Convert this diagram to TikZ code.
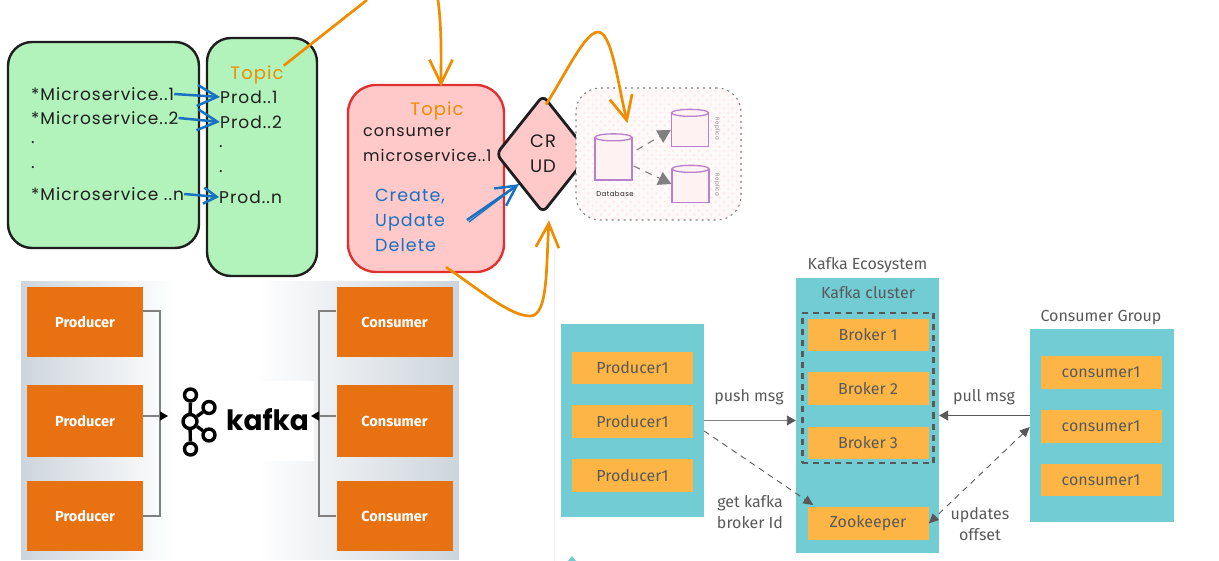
\documentclass[tikz,border=0pt]{standalone}
\usepackage{fontspec}
\usepackage{xcolor}
\usepackage{tikz}
\usetikzlibrary{shapes,arrows,positioning,calc,patterns.meta,arrows.meta}
\newfontfamily\handfont[LetterSpace=6]{Poppins}
\newfontfamily\logofont{Poppins}
\newfontfamily\slidefont{Fira Sans}
\definecolor{sketchgreen}{HTML}{B2F2BB}
\definecolor{sketchink}{HTML}{1E1E1E}
\definecolor{sketchred}{HTML}{E03131}
\definecolor{sketchpink}{HTML}{FFC9C9}
\definecolor{sketchorange}{HTML}{F08C00}
\definecolor{sketchblue}{HTML}{1971C2}
\definecolor{sketchpurple}{HTML}{B980CE}
\definecolor{kafkaorange}{HTML}{E87212}
\definecolor{kafkagrey}{HTML}{CDD5DC}
\definecolor{clusterteal}{HTML}{72CCD4}
\definecolor{clusteramber}{HTML}{FDB646}
\definecolor{clustertext}{HTML}{595959}
\tikzset{
    greenbox/.style={draw=sketchink,fill=sketchgreen,line width=2.4pt,rounded corners=24pt,inner sep=0pt},
    handtext/.style={inner sep=0pt,anchor=west,text=sketchink,font=\handfont\fontsize{17}{25}\selectfont},
    orangetext/.style={inner sep=0pt,text=sketchorange,font=\handfont\fontsize{18}{20}\selectfont},
    bluearrow/.style={draw=sketchblue,line width=2.5pt,-{Straight Barb[width=21pt,length=20pt]}},
    smallblue/.style={draw=sketchblue,line width=2.5pt,-{Straight Barb[width=16pt,length=13pt]}},
    orangeline/.style={draw=sketchorange,line width=2.7pt},
    orangearrow/.style={orangeline,-{Straight Barb[width=23pt,length=24pt]}},
    dbcyl/.style={rectangle,draw=sketchpurple,line width=1.3pt,fill=sketchpink!25,inner sep=0pt,minimum width=37pt},
    dblid/.style={ellipse,draw=sketchpurple,line width=1.3pt,fill=sketchpink!25,inner sep=0pt,minimum width=37pt,minimum height=7pt},
    greyarrow/.style={draw=gray,line width=1.1pt,dash pattern=on 7pt off 6pt,-{Triangle[width=14pt,length=13pt]}},
    kafkabox/.style={fill=kafkaorange,text=white,inner sep=0pt,minimum width=116pt,minimum height=70pt,font=\slidefont\bfseries\fontsize{14.5}{17}\selectfont},
    kafkaline/.style={draw=gray,line width=1.2pt},
    kafkatip/.style={kafkaline,-{Triangle[width=9pt,length=8pt,color=black]}},
    logoring/.style={circle,draw=black,line width=3.4pt,fill=white,inner sep=0pt,minimum size=12pt},
    tealpanel/.style={fill=clusterteal,inner sep=0pt},
    amberbox/.style={fill=clusteramber,text=clustertext,inner sep=0pt,minimum width=121pt,minimum height=32.5pt,font=\slidefont\fontsize{16}{18}\selectfont},
    clusterlabel/.style={inner sep=0pt,text=clustertext,align=center,font=\slidefont\fontsize{16}{21}\selectfont},
}
\begin{document}
\begin{tikzpicture}[x=1pt,y=-1pt]
    \useasboundingbox (0,0) rectangle (1219,561);

    % sketch: services and topics
    \node[greenbox,minimum width=191pt,minimum height=206pt] (svcbox) at (103.5,145) {};
    \node[greenbox,minimum width=110pt,minimum height=238pt] (prodbox) at (262,157) {};
    \node[orangetext] (topicleft) at (257,75) {Topic};
    \node[handtext] (svcone) at (31,94) {*Microservice..1};
    \node[handtext] (svctwo) at (31,118) {*Microservice..2};
    \node[handtext] (svcdota) at (31,143) {.};
    \node[handtext] (svcdotb) at (31,168) {.};
    \node[handtext] (svcn) at (31,194) {*Microservice ..n};
    \node[handtext] (prodone) at (220,97) {Prod..1};
    \node[handtext] (prodtwo) at (220,122) {Prod..2};
    \node[handtext] (proddota) at (219,147) {.};
    \node[handtext] (proddotb) at (219,172) {.};
    \node[handtext] (prodn) at (219,197) {Prod..n};
    \draw[bluearrow] (svcone.east) -- (prodone.west);
    \draw[bluearrow] (svctwo.east) -- (prodtwo.west);
    \draw[smallblue] (svcn.east) -- (prodn.west);

    % sketch: consumer and CRUD
    \node[draw=sketchred,fill=sketchpink,line width=2.4pt,rounded corners=28pt,inner sep=0pt,minimum width=156pt,minimum height=187pt] (consbox) at (426,178.5) {};
    \node[orangetext] (topicright) at (437,111) {Topic};
    \node[handtext,align=left,font=\handfont\fontsize{16}{25}\selectfont] (conslabel) at (363,144.5) {consumer\\microservice..1};
    \node[handtext,align=left,text=sketchblue,font=\handfont\fontsize{17.5}{25}\selectfont] (crudlabel) at (375,220) {Create,\\Update\\Delete};
    \node[diamond,aspect=0.8,draw=sketchink,fill=sketchpink,line width=2.8pt,rounded corners=6pt,inner sep=0pt,minimum width=94pt,minimum height=118pt,align=center,text=sketchink,font=\handfont\fontsize{18}{25}\selectfont] (crud) at (543,154) {CR\\UD};
    \coordinate (crudstart) at (467,220);
    \coordinate (crudstartb) at (469,222);
    \draw[bluearrow] (crudstart) -- (crud.south west);
    \draw[draw=sketchblue,line width=1.4pt] (crudstartb) -- (crud.south west);

    % sketch: database and replicas
    \node[draw=gray,dash pattern=on 2pt off 4pt,line width=1.1pt,rounded corners=24pt,inner sep=0pt,minimum width=165pt,minimum height=132pt,pattern={Lines[angle=45,distance=6pt,line width=2pt]},pattern color=sketchpink!40,preaction={fill=sketchpink!10}] (dbpanel) at (658.5,154) {};
    \node[dbcyl,minimum height=42pt] (dbmain) at (613.5,159) {};
    \node[dbcyl,minimum height=33pt] (dbrepa) at (690,130) {};
    \node[dbcyl,minimum height=33pt] (dbrepb) at (690.5,186) {};
    \node[dblid] (lidmain) at (dbmain.north) {};
    \node[dblid] (lidrepa) at (dbrepa.north) {};
    \node[dblid] (lidrepb) at (dbrepb.north) {};
    \node[inner sep=0pt,text=sketchink,font=\handfont\fontsize{7}{8}\selectfont] (dblabel) at (615,194) {Database};
    \node[inner sep=0pt,rotate=-90,text=gray,font=\handfont\fontsize{5.5}{6}\selectfont] (repalabel) at (717,129) {Replica};
    \node[inner sep=0pt,rotate=-90,text=gray,font=\handfont\fontsize{5.5}{6}\selectfont] (repblabel) at (717,185) {Replica};
    \draw[greyarrow] ([xshift=4pt,yshift=9pt]dbmain.east) -- (dbrepa.west);
    \draw[greyarrow] ([xshift=1pt,yshift=-7pt]dbmain.east) -- ([yshift=2pt]dbrepb.west);

    % kafka slide
    \shade[left color=kafkagrey,right color=white] (21,282) rectangle (175,559);
    \shade[left color=white,right color=kafkagrey] (255,282) rectangle (459,559);
    \node[kafkabox] (kprodone) at (85,322) {Producer};
    \node[kafkabox,minimum height=71pt] (kprodtwo) at (85,421) {Producer};
    \node[kafkabox] (kprodthree) at (85,516) {Producer};
    \node[kafkabox] (kconsone) at (394.5,322) {Consumer};
    \node[kafkabox,minimum height=71pt] (kconstwo) at (394.5,421) {Consumer};
    \node[kafkabox] (kconsthree) at (394.5,516) {Consumer};
    \node[fill=white,inner sep=0pt,minimum width=139pt,minimum height=80pt] (logobg) at (244.5,421) {};
    \node[logoring,minimum size=14pt] (loghub) at (190,421.5) {};
    \node[logoring] (logtop) at (190.5,395) {};
    \node[logoring] (logbot) at (190.5,449) {};
    \node[logoring] (logup) at (209,407.5) {};
    \node[logoring] (logdown) at (209,435) {};
    \draw[line width=3.4pt] (loghub) -- (logtop);
    \draw[line width=3.4pt] (loghub) -- (logbot);
    \draw[line width=3.4pt] (loghub) -- (logup);
    \draw[line width=3.4pt] (loghub) -- (logdown);
    \node[inner sep=0pt,anchor=west,font=\logofont\bfseries\fontsize{28}{28}\selectfont] (logtext) at (226,420) {kafka};
    \coordinate (kbusl) at (160,416);
    \coordinate (kbusr) at (319,416);
    \coordinate (ktipl) at (168,416);
    \coordinate (ktipr) at (311,416);
    \draw[kafkaline] ([yshift=11pt]kprodone.east) -| (kbusl);
    \draw[kafkaline] (kprodthree.east) -| (kbusl);
    \draw[kafkatip] ([yshift=5pt]kprodtwo.east) -- (ktipl);
    \draw[kafkaline] ([yshift=11pt]kconsone.west) -| (kbusr);
    \draw[kafkaline] (kconsthree.west) -| (kbusr);
    \draw[kafkatip] ([yshift=5pt]kconstwo.west) -- (ktipr);

    % cluster diagram
    \draw[black!6,line width=0.6pt] (554,250) -- (554,561);
    \fill[clusterteal] (568,561) -- (572,556) -- (576,561) -- cycle;
    \node[tealpanel,minimum width=143pt,minimum height=193pt] (rprodpanel) at (632.5,420.5) {};
    \node[tealpanel,minimum width=143pt,minimum height=275pt] (kafpanel) at (867.5,415.5) {};
    \node[tealpanel,minimum width=144pt,minimum height=193pt] (conspanel) at (1102,425.5) {};
    \node[clusterlabel] (ecolabel) at (867.5,265) {Kafka Ecosystem};
    \node[clusterlabel] (clulabel) at (868,293) {Kafka cluster};
    \node[clusterlabel] (grplabel) at (1101,318) {Consumer Group};
    \node[amberbox] (rprodone) at (632.5,368) {Producer1};
    \node[amberbox] (rprodtwo) at (632.5,421.5) {Producer1};
    \node[amberbox] (rprodthree) at (632.5,475.5) {Producer1};
    \node[amberbox] (brokone) at (868,335) {Broker 1};
    \node[amberbox] (broktwo) at (868,388.5) {Broker 2};
    \node[amberbox] (brokthree) at (868,443) {Broker 3};
    \node[draw=clustertext,dash pattern=on 6pt off 5pt,line width=2.8pt,inner sep=0pt,minimum width=131.5pt,minimum height=150pt] (brokset) at (868,388) {};
    \node[amberbox] (zooko) at (868,523.5) {Zookeeper};
    \node[amberbox] (rconsone) at (1101,372.5) {consumer1};
    \node[amberbox] (rconstwo) at (1101,426.5) {consumer1};
    \node[amberbox] (rconsthree) at (1101,480) {consumer1};
    \draw[draw=gray,line width=0.9pt,-{Triangle[width=10pt,length=9pt,color=clustertext]}] (rprodpanel.east) -- (rprodpanel.east -| kafpanel.west);
    \draw[draw=clustertext,line width=1.5pt,-{Triangle[width=10pt,length=9pt]}] ([yshift=10pt]conspanel.west) -- (kafpanel.east);
    \draw[draw=clustertext,line width=0.9pt,dash pattern=on 6pt off 5pt,-{Triangle[width=9pt,length=10pt]}] ([yshift=-10.5pt]rprodpanel.east) -- ([xshift=6pt,yshift=2pt]zooko.north west);
    \draw[draw=clustertext,line width=0.9pt,dash pattern=on 6pt off 5pt,{Triangle[width=9pt,length=10pt]}-{Triangle[width=9pt,length=10pt]}] ([yshift=-1.5pt]conspanel.west) -- (zooko.east);
    \node[clusterlabel] (pushlabel) at (749,397) {push msg};
    \node[clusterlabel] (pulllabel) at (984,397) {pull msg};
    \node[clusterlabel] (brokidlabel) at (750,512) {get kafka\\broker Id};
    \node[clusterlabel] (offsetlabel) at (980,524) {updates\\offset};

    % sketch: orange links on top
    \coordinate (topexita) at (367,0);
    \coordinate (topexitb) at (438,0);
    \coordinate (dbpeak) at (598,32);
    \coordinate (crudlow) at (530,316);
    \draw[orangeline] (topicleft.north east) -- (topexita);
    \draw[orangearrow] (topexitb) .. controls (442,30) and (441,60) .. ([xshift=15pt,yshift=-3pt]consbox.north);
    \draw[orangeline] ([xshift=3pt,yshift=-11pt]crud.north) .. controls (565,75) and (585,32) .. (dbpeak);
    \draw[orangearrow] (dbpeak) .. controls (612,32) and (618,85) .. ([xshift=14pt,yshift=10pt]lidmain.north);
    \draw[orangeline] ([xshift=20pt,yshift=6pt]consbox.south) .. controls (480,290) and (510,316) .. (crudlow);
    \draw[orangearrow] (crudlow) .. controls (548,316) and (546,270) .. ([xshift=6pt,yshift=-6pt]crud.south);
\end{tikzpicture}
\end{document}
